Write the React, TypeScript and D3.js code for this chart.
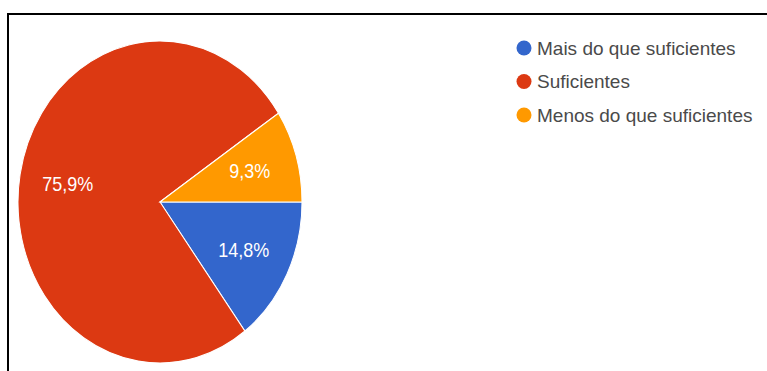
import { useEffect, useRef } from 'react';
import * as d3 from 'd3';

const categories = ['Mais do que suficientes', 'Suficientes', 'Menos do que suficientes'];
const values = [14.8, 75.9, 9.3];
const colors = ['#3366cc', '#dc3912', '#ff9900'];

const width = 767;
const height = 371;

export default function App() {
  const svgRef = useRef<SVGSVGElement>(null);

  useEffect(() => {
    if (!svgRef.current) return;
    const svg = d3.select(svgRef.current);
    svg.selectAll('*').remove();

    svg.append('rect').attr('width', width).attr('height', height).attr('fill', 'white');

    // frame (cut off at right and bottom)
    svg
      .append('rect')
      .attr('x', 8)
      .attr('y', 14)
      .attr('width', 900)
      .attr('height', 500)
      .attr('fill', 'none')
      .attr('stroke', 'black')
      .attr('stroke-width', 2);

    const data = categories.map((c, i) => ({ category: c, value: values[i], color: colors[i] }));
    const radius = 142;
    const stretch = 1.134;

    const g = svg.append('g').attr('transform', `translate(160, 202) scale(1, ${stretch})`);

    const pie = d3
      .pie<(typeof data)[number]>()
      .value((d) => d.value)
      .sort(null)
      .startAngle(Math.PI / 2)
      .endAngle(Math.PI / 2 + 2 * Math.PI);

    const arc = d3.arc<d3.PieArcDatum<(typeof data)[number]>>().innerRadius(0).outerRadius(radius);
    const labelArc = d3
      .arc<d3.PieArcDatum<(typeof data)[number]>>()
      .innerRadius(radius * 0.66)
      .outerRadius(radius * 0.66);

    g.selectAll('path')
      .data(pie(data))
      .enter()
      .append('path')
      .attr('d', arc)
      .attr('fill', (d) => d.data.color)
      .attr('stroke', 'white')
      .attr('stroke-width', 1);

    g.selectAll('text')
      .data(pie(data))
      .enter()
      .append('text')
      .attr('transform', (d) => {
        const [x, y] = labelArc.centroid(d);
        return `translate(${x}, ${y})`;
      })
      .attr('text-anchor', 'middle')
      .attr('dominant-baseline', 'central')
      .style('font-family', 'Arial, "Liberation Sans", sans-serif')
      .style('font-size', '18px')
      .style('fill', 'white')
      .text((d) => d.data.value.toFixed(1).replace('.', ',') + '%');

    // legend
    const legend = svg
      .selectAll('g.legend')
      .data(data)
      .enter()
      .append('g')
      .attr('class', 'legend')
      .attr('transform', (_, i) => `translate(524, ${48 + i * 33.5})`);

    legend.append('circle').attr('r', 7.5).attr('fill', (d) => d.color);

    legend
      .append('text')
      .attr('x', 13)
      .attr('dominant-baseline', 'central')
      .style('font-family', 'Arial, "Liberation Sans", sans-serif')
      .style('font-size', '19px')
      .style('fill', '#4a4a4a')
      .text((d) => d.category);
  }, []);

  return (
    <svg
      ref={svgRef}
      width={width}
      height={height}
      style={{ position: 'absolute', left: 0, top: 0 }}
    />
  );
}
